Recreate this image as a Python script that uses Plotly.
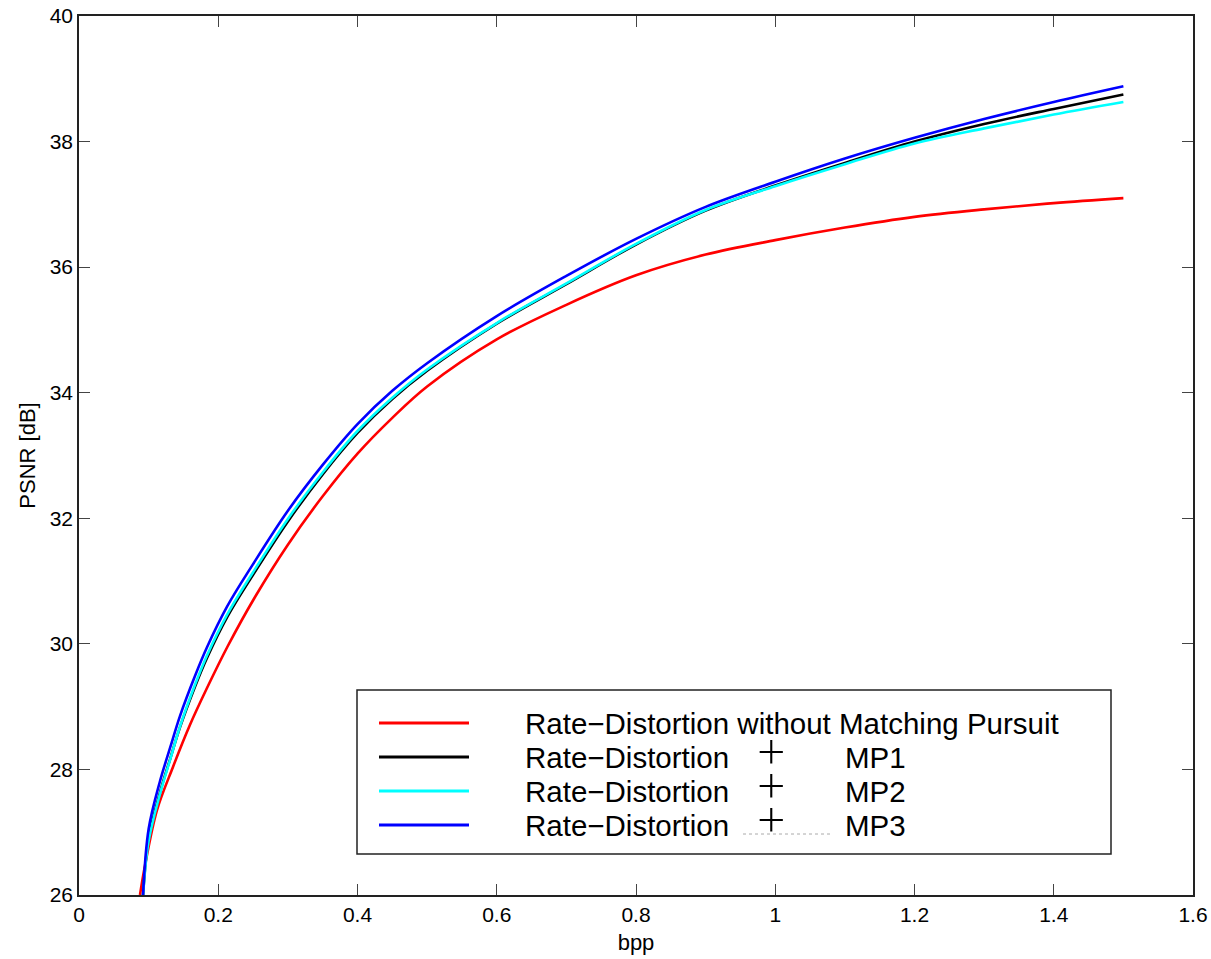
import plotly.graph_objects as go

# Rate-distortion curves: PSNR [dB] versus bit rate [bpp]
bpp_plain = [0.0876, 0.095, 0.112, 0.135, 0.159, 0.184, 0.213, 0.253, 0.30, 0.35,
             0.40, 0.45, 0.50, 0.60, 0.70, 0.80, 0.90, 1.00, 1.10, 1.20, 1.30, 1.40, 1.50]
psnr_plain = [26.0, 26.48, 27.35, 28.04, 28.70, 29.30, 29.95, 30.75, 31.58, 32.35,
              33.03, 33.60, 34.10, 34.85, 35.40, 35.87, 36.20, 36.43, 36.63, 36.80, 36.92, 37.02, 37.10]

bpp_mp = [0.092, 0.10, 0.116, 0.131, 0.145, 0.167, 0.184, 0.213, 0.25, 0.30,
          0.35, 0.40, 0.45, 0.50, 0.60, 0.70, 0.80, 0.90, 1.00, 1.10, 1.20, 1.30, 1.40, 1.50]
psnr_mp1 = [26.0, 26.90, 27.62, 28.17, 28.67, 29.33, 29.78, 30.43, 31.10, 31.95,
            32.70, 33.36, 33.90, 34.35, 35.10, 35.73, 36.36, 36.90, 37.30, 37.66, 38.00, 38.28, 38.52, 38.75]
psnr_mp2 = [26.0, 26.86, 27.60, 28.16, 28.68, 29.36, 29.82, 30.47, 31.14, 31.99,
            32.73, 33.39, 33.92, 34.37, 35.11, 35.74, 36.37, 36.91, 37.29, 37.64, 37.97, 38.21, 38.43, 38.63]
psnr_mp3 = [26.0, 27.05, 27.80, 28.35, 28.85, 29.50, 29.95, 30.60, 31.27, 32.12,
            32.85, 33.50, 34.03, 34.47, 35.22, 35.86, 36.45, 36.96, 37.36, 37.73, 38.06, 38.36, 38.63, 38.88]

series = [
    ("without", bpp_plain, psnr_plain, "#ff0000"),
    ("MP1", bpp_mp, psnr_mp1, "#000000"),
    ("MP2", bpp_mp, psnr_mp2, "#00ffff"),
    ("MP3", bpp_mp, psnr_mp3, "#0000ff"),
]

legend_rows = [
    ("Rate\u2212Distortion without Matching Pursuit", None, None),
    ("Rate\u2212Distortion", "+", "MP1"),
    ("Rate\u2212Distortion", "+", "MP2"),
    ("Rate\u2212Distortion", "+", "MP3"),
]

x_ticks = [0, 0.2, 0.4, 0.6, 0.8, 1.0, 1.2, 1.4, 1.6]
y_ticks = [26, 28, 30, 32, 34, 36, 38, 40]

W, H = 1211, 959
L, R, T, B = 79, 18, 16, 64
PW, PH = W - L - R, H - T - B


def px(xp):
    return (xp - L) / PW


def py(yp):
    return (H - B - yp) / PH


fig = go.Figure()
for name, xs, ys, color in series:
    fig.add_trace(go.Scatter(x=xs, y=ys, mode="lines", name=name,
                             line=dict(color=color, width=2.6, shape="spline", smoothing=1.0),
                             showlegend=False))

font = "Liberation Sans, Arial, Helvetica, sans-serif"

shapes = [dict(type="rect", xref="paper", yref="paper",
               x0=px(357), x1=px(1111), y0=py(854), y1=py(690),
               line=dict(color="#222222", width=1.5), fillcolor="white", layer="above")]
annotations = []
for i, ((text, plus, tag), (_, _, _, color)) in enumerate(zip(legend_rows, series)):
    yrow = 723 + 34 * i
    shapes.append(dict(type="line", xref="paper", yref="paper",
                       x0=px(379), x1=px(469), y0=py(yrow), y1=py(yrow),
                       line=dict(color=color, width=3), layer="above"))
    annotations.append(dict(text=text, xref="paper", yref="paper", x=px(523), y=py(yrow),
                            xanchor="left", yanchor="middle", showarrow=False,
                            font=dict(family=font, size=29.5, color="black")))
    if plus:
        annotations.append(dict(text=plus, xref="paper", yref="paper", x=px(771), y=py(yrow - 6),
                                xanchor="center", yanchor="middle", showarrow=False,
                                font=dict(family="Open Sans, sans-serif", size=50, weight=300,
                                          color="black")))
        annotations.append(dict(text=tag, xref="paper", yref="paper", x=px(843), y=py(yrow),
                                xanchor="left", yanchor="middle", showarrow=False,
                                font=dict(family=font, size=29.5, color="black")))

# faint dotted stroke under the last legend entry
shapes.append(dict(type="line", xref="paper", yref="paper",
                   x0=px(743), x1=px(833), y0=py(834), y1=py(834),
                   line=dict(color="#aaaaaa", width=1, dash="dot"), layer="above"))

axis_common = dict(showgrid=False, zeroline=False, ticks="inside", ticklen=11,
                   tickcolor="#444444", tickwidth=1.3, showline=True, linecolor="#222222",
                   linewidth=1.5, mirror="ticks",
                   tickfont=dict(family=font, size=21, color="black"))

fig.update_layout(
    width=W, height=H,
    margin=dict(l=L, r=R, t=T, b=B, autoexpand=False),
    paper_bgcolor="white", plot_bgcolor="white",
    xaxis=dict(range=[0, 1.6], tickvals=x_ticks, ticktext=[f"{v:g}" for v in x_ticks],
               title=dict(text="bpp", font=dict(family=font, size=22, color="black"), standoff=10),
               automargin=False, **axis_common),
    yaxis=dict(range=[26, 40], tickvals=y_ticks, ticktext=[str(v) for v in y_ticks],
               title=dict(text="PSNR [dB]", font=dict(family=font, size=22, color="black"), standoff=8),
               automargin=False, **axis_common),
    shapes=shapes,
    annotations=annotations,
)

fig.write_html("out.html")
